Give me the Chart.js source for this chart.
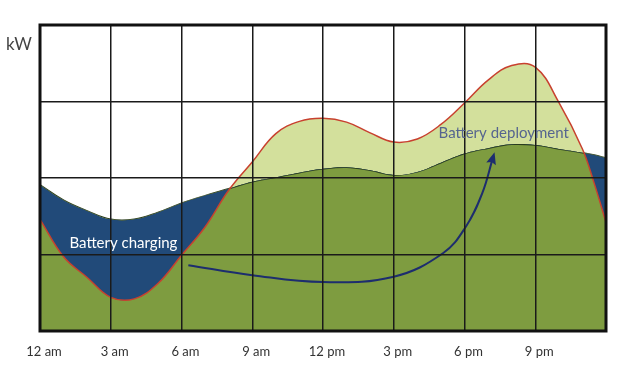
<!DOCTYPE html>
<html>
<head>
<meta charset="utf-8">
<script src="https://cdn.jsdelivr.net/npm/chart.js@4"></script>
<style>
  html, body { margin: 0; padding: 0; background: #fff; }
  #wrap { width: 619px; height: 367px; position: relative; }
</style>
</head>
<body>
<div id="wrap"><canvas id="chart"></canvas></div>
<script>
// hour of day
const hours = [0, 1, 2, 3, 4, 5, 6, 7, 8, 9, 10, 11, 12, 13, 14, 15, 16, 17, 18, 19, 20, 21, 22, 23, 23.5, 24]
// red line (load)
const loadKw = [1.46, 0.97, 0.70, 0.44, 0.42, 0.62, 0.99, 1.36, 1.84, 2.21, 2.58, 2.74, 2.78, 2.73, 2.59, 2.47, 2.51, 2.70, 2.98, 3.28, 3.47, 3.45, 2.99, 2.38, 1.93, 1.42]
// dark green line (supply)
const supplyKw = [1.91, 1.71, 1.57, 1.46, 1.46, 1.55, 1.67, 1.77, 1.86, 1.95, 2.01, 2.07, 2.12, 2.14, 2.10, 2.04, 2.08, 2.20, 2.32, 2.39, 2.44, 2.43, 2.38, 2.33, 2.30, 2.26]
// arrow path from charging to deployment
const arrowHours = [6.29, 9.0, 12.0, 15.0, 17.1, 18.05, 18.75, 19.2]
const arrowKw = [0.86, 0.73, 0.64, 0.71, 1.02, 1.36, 1.80, 2.26]
const tickLabels = ["12 am", "3 am", "6 am", "9 am", "12 pm", "3 pm", "6 pm", "9 pm"]

const toPts = (xs, ys) => xs.map((x, i) => ({ x: x, y: ys[i] }))

const OLIVE = "#7e9c40"
const LIGHT = "#d3e09c"
const BLUE = "#214a79"

// frame, texts and arrow head
const decorPlugin = {
  id: "decor",
  afterDraw: (chart) => {
    const ctx = chart.ctx
    const xs = chart.scales.x
    const ys = chart.scales.y
    const area = chart.chartArea

    // arrow head at the end of the arrow line
    const pts = chart.getDatasetMeta(0).data
    const a = pts[pts.length - 2]
    const b = pts[pts.length - 1]
    const ang = Math.atan2(b.y - a.y, b.x - a.x)
    ctx.save()
    ctx.fillStyle = "#1d2d6e"
    ctx.translate(b.x, b.y)
    ctx.rotate(ang)
    ctx.beginPath()
    ctx.moveTo(6, 0)
    ctx.lineTo(-6, -5)
    ctx.lineTo(-4, 0)
    ctx.lineTo(-6, 5)
    ctx.closePath()
    ctx.fill()
    ctx.restore()

    // outer frame
    ctx.save()
    ctx.strokeStyle = "#111"
    ctx.lineWidth = 3
    ctx.strokeRect(area.left, area.top, area.right - area.left, area.bottom - area.top)
    ctx.restore()

    // texts
    ctx.save()
    ctx.font = "15px Lato, 'Open Sans', sans-serif"
    ctx.textBaseline = "middle"
    ctx.textAlign = "left"
    ctx.fillStyle = "#ffffff"
    ctx.fillText("Battery charging", xs.getPixelForValue(1.25), ys.getPixelForValue(1.15))
    ctx.fillStyle = "#56658f"
    ctx.fillText("Battery deployment", xs.getPixelForValue(16.9), ys.getPixelForValue(2.59))
    ctx.fillStyle = "#444"
    ctx.font = "17px Lato, 'Open Sans', sans-serif"
    ctx.fillText("kW", 6, 45)
    ctx.restore()
  },
}

new Chart(document.getElementById("chart"), {
  type: "line",
  data: {
    datasets: [
      {
        label: "Arrow",
        data: toPts(arrowHours, arrowKw),
        borderColor: "#1d2d6e",
        borderWidth: 2,
        pointRadius: 0,
        tension: 0.4,
        fill: false,
      },
      {
        label: "Load",
        data: toPts(hours, loadKw),
        borderColor: "#c8412f",
        borderWidth: 1.5,
        pointRadius: 0,
        tension: 0.4,
        fill: { target: 2, above: LIGHT, below: BLUE },
      },
      {
        label: "Supply",
        data: toPts(hours, supplyKw),
        borderColor: "#2a3d1c",
        borderWidth: 1.5,
        pointRadius: 0,
        tension: 0.4,
        fill: { target: "origin", above: OLIVE, below: OLIVE },
      },
    ],
  },
  options: {
    responsive: true,
    maintainAspectRatio: false,
    animation: false,
    layout: { padding: { left: 40, right: 7, top: 25, bottom: 0 } },
    plugins: {
      legend: { display: false },
      tooltip: { enabled: false },
    },
    scales: {
      x: {
        type: "linear",
        min: 0,
        max: 24,
        afterFit: (scale) => { scale.height = 36 },
        grid: { color: "#1a1a1a", lineWidth: 1.5, drawTicks: false, z: 1 },
        border: { display: false },
        ticks: {
          stepSize: 3,
          padding: 13,
          labelOffset: 4,
          maxRotation: 0,
          color: "#333",
          font: { family: "Lato, 'Open Sans', sans-serif", size: 13 },
          callback: (v) => tickLabels[v / 3] || "",
        },
      },
      y: {
        min: 0,
        max: 4,
        afterFit: (scale) => { scale.width = 0 },
        grid: { color: "#1a1a1a", lineWidth: 1.5, drawTicks: false, z: 1 },
        border: { display: false },
        ticks: { stepSize: 1, display: false },
      },
    },
  },
  plugins: [decorPlugin],
})
</script>
</body>
</html>
